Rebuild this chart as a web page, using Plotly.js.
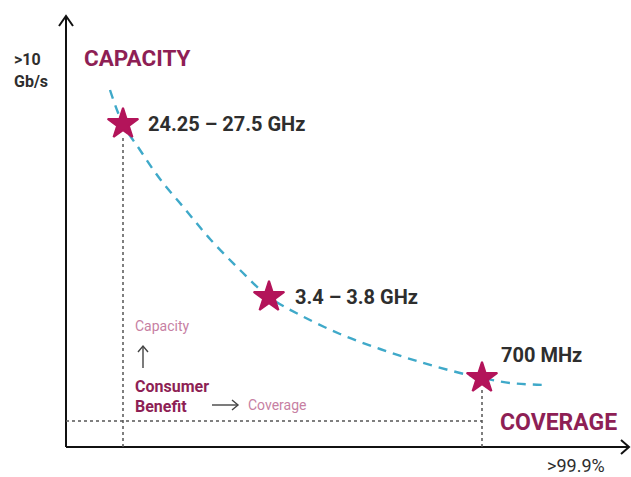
<!DOCTYPE html>
<html><head><meta charset="utf-8">
<script src="https://cdn.plot.ly/plotly-3.0.1.min.js"></script>
<style>html,body{margin:0;padding:0;background:#fff}#chart{width:631px;height:477px}</style>
</head><body><div id="chart"></div>
<script>
// Conceptual chart: x = coverage (abstract units), y = capacity (abstract units)
const bands = ["24.25 – 27.5 GHz", "3.4 – 3.8 GHz", "700 MHz"];
const bandCoverage = [123, 269, 482];
const bandCapacity = [353, 180, 99];
const curveCoverage = [110, 123, 140, 160, 185, 210, 240, 269, 300, 340, 380, 420, 460, 482, 510, 545];
const curveCapacity = [387, 353, 327, 298, 268, 238, 207, 180, 162, 143, 128, 115, 104, 99, 94, 92];
const yTopLabel = [">10", "Gb/s"];
const xEndLabel = ">99.9%";

const axisColor = "#111";
const magenta = "#8E1F55";
const starColor = "#B3145A";
const lightPink = "#C77FA3";
const textDark = "#2e2e2e";
const origin = {x: 66, y: 30};
const baseY = 56; // horizontal dotted line level

const traces = [
  {x: curveCoverage, y: curveCapacity, mode: "lines", type: "scatter",
   line: {color: "#3FA9C9", width: 2.4, dash: "9px,7px", shape: "spline"}, hoverinfo: "skip"},
  {x: bandCoverage, y: bandCapacity, mode: "markers", type: "scatter",
   marker: {symbol: "star", size: 23, color: starColor, line: {width: 2, color: starColor}}, hoverinfo: "skip"}
];

const shapes = [];
const ln = (x0, y0, x1, y1, color, width, dash) => shapes.push({type: "line", xref: "x", yref: "y", x0, y0, x1, y1, line: {color, width, dash: dash || "solid"}});
const path = (p, color, width) => shapes.push({type: "path", xref: "x", yref: "y", path: p, line: {color, width}});
// axes
ln(origin.x, origin.y, origin.x, 461, axisColor, 2);
ln(origin.x, origin.y, 629, origin.y, axisColor, 2);
path(`M ${origin.x-7},451 L ${origin.x},461 L ${origin.x+7},451`, axisColor, 2);
path(`M 621,${origin.y+7} L 629,${origin.y} L 621,${origin.y-7}`, axisColor, 2);
// dotted guide lines
ln(origin.x, baseY, bandCoverage[2], baseY, "#555", 1.5, "dot");
ln(bandCoverage[0], origin.y, bandCoverage[0], bandCapacity[0] - 14, "#555", 1.5, "dot");
ln(bandCoverage[2], origin.y, bandCoverage[2], bandCapacity[2] - 12, "#555", 1.5, "dot");
// small legend arrows
ln(143, 109, 143, 131, "#444", 1.4);
path("M 138,125 L 143,131 L 148,125", "#444", 1.4);
ln(212, 72, 238, 72, "#444", 1.4);
path("M 232,77 L 238,72 L 232,67", "#444", 1.4);

const ff = "Roboto, 'Open Sans', sans-serif";
const ann = [];
function t(x, y, text, size, color, anchor, bold) {
  ann.push({x: x, y: y, xref: "x", yref: "y", text: bold ? "<b>" + text + "</b>" : text, showarrow: false,
    xanchor: anchor || "left", yanchor: "middle", font: {family: ff, size: size, color: color}});
}
t(82, 419, "CAPACITY", 22.5, magenta, "left", true);
t(498, 55, "COVERAGE", 23, magenta, "left", true);
t(12, 418, yTopLabel[0], 16, textDark, "left", true);
t(12, 396, yTopLabel[1], 16, textDark, "left", true);
t(545, 12, xEndLabel, 18, textDark, "left", false);
t(bandCoverage[0] + 23, bandCapacity[0], bands[0], 20, textDark, "left", true);
t(bandCoverage[1] + 24, bandCapacity[1], bands[1], 20, textDark, "left", true);
t(bandCoverage[2] + 17, bandCapacity[2] + 23, bands[2], 20, textDark, "left", true);
t(133, 151, "Capacity", 14, lightPink, "left", false);
t(133, 91, "Consumer", 16, magenta, "left", true);
t(133, 71, "Benefit", 16, magenta, "left", true);
t(246, 72, "Coverage", 14, lightPink, "left", false);

const layout = {
  width: 631, height: 477,
  margin: {l: 0, r: 0, t: 0, b: 0},
  paper_bgcolor: "#fff", plot_bgcolor: "#fff",
  showlegend: false,
  xaxis: {range: [0, 631], visible: false, fixedrange: true},
  yaxis: {range: [0, 477], visible: false, fixedrange: true},
  shapes: shapes,
  annotations: ann
};
Plotly.newPlot("chart", traces, layout, {staticPlot: true, displayModeBar: false});
</script>
</body></html>
